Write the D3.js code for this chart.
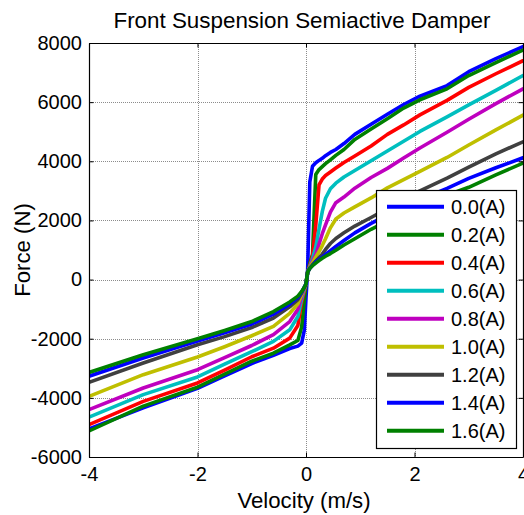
<!DOCTYPE html>
<html><head><meta charset="utf-8">
<script src="https://cdn.jsdelivr.net/npm/d3@7"></script>
<style>
body{margin:0;background:#fff;}
svg{display:block;font-family:"Liberation Sans",Arial,Helvetica,sans-serif;}
</style>
</head><body>
<svg id="chart" width="524" height="515"></svg>
<script>
// ---- data ----
const velocity = [-4, -3, -2, -1.5, -1, -0.6, -0.3, -0.15, -0.08, -0.03, 0, 0.03, 0.07, 0.12, 0.18, 0.24, 0.3, 0.36, 0.45, 0.55, 0.7, 0.9, 1.2, 1.5, 1.8, 2.1, 2.6, 3, 3.5, 4];
const currentLabels = ["0.0(A)", "0.2(A)", "0.4(A)", "0.6(A)", "0.8(A)", "1.0(A)", "1.2(A)", "1.4(A)", "1.6(A)"];
const lineColors = ["#0000ff", "#008000", "#ff0000", "#00bfbf", "#bf00bf", "#bfbf00", "#404040", "#0000ff", "#008000"];
const force00 = [-5050, -4340, -3680, -3260, -2840, -2560, -2330, -2250, -2150, -1700, -600, 300, 3300, 3830, 3950, 4030, 4100, 4190, 4300, 4400, 4600, 4910, 5255, 5590, 5920, 6200, 6560, 7030, 7470, 7880];
const force02 = [-5120, -4280, -3640, -3200, -2760, -2490, -2210, -2060, -1600, -700, -150, 250, 550, 850, 3550, 3720, 3820, 3920, 4050, 4200, 4400, 4740, 5090, 5440, 5800, 6080, 6450, 6900, 7340, 7760];
const force04 = [-4905, -4118, -3497, -3060, -2610, -2320, -1980, -1550, -750, -380, -150, 250, 480, 800, 1830, 3200, 3400, 3520, 3640, 3770, 3960, 4180, 4520, 4910, 5230, 5570, 6060, 6500, 6960, 7400];
const force06 = [-4650, -3890, -3294, -2860, -2440, -2090, -1700, -1250, -650, -330, -150, 250, 450, 700, 1100, 1700, 2300, 2750, 3070, 3260, 3470, 3690, 4020, 4350, 4680, 5010, 5500, 5910, 6400, 6900];
const force08 = [-4400, -3666, -3047, -2640, -2230, -1860, -1420, -1000, -560, -300, -150, 250, 420, 620, 850, 1200, 1550, 1850, 2280, 2600, 2790, 3090, 3450, 3760, 4110, 4450, 4980, 5420, 5950, 6450];
const force10 = [-3950, -3216, -2618, -2270, -1900, -1580, -1140, -820, -500, -280, -150, 250, 400, 560, 760, 940, 1150, 1380, 1750, 2050, 2250, 2460, 2760, 3100, 3380, 3660, 4130, 4550, 5060, 5560];
const force12 = [-3476, -2820, -2203, -1930, -1620, -1300, -920, -680, -450, -260, -150, 250, 380, 500, 620, 740, 860, 1020, 1220, 1390, 1580, 1810, 2100, 2400, 2700, 3000, 3430, 3800, 4250, 4660];
const force14 = [-3270, -2650, -2080, -1800, -1500, -1170, -830, -600, -430, -250, -150, 250, 380, 480, 600, 680, 760, 850, 980, 1120, 1320, 1580, 1900, 2180, 2450, 2700, 3080, 3420, 3780, 4120];
const force16 = [-3140, -2540, -2000, -1720, -1420, -1080, -760, -560, -400, -260, -150, 250, 380, 470, 560, 640, 720, 790, 880, 990, 1170, 1380, 1700, 1980, 2230, 2480, 2850, 3120, 3540, 3940];
const xTickValues = [-4, -2, 0, 2, 4];
const yTickValues = [-6000, -4000, -2000, 0, 2000, 4000, 6000, 8000];
const titleText = "Front Suspension Semiactive Damper";
const xLabelText = "Velocity (m/s)";
const yLabelText = "Force (N)";

const forces = [force00, force02, force04, force06, force08, force10, force12, force14, force16];

// ---- layout ----
const svg = d3.select("#chart");
const L = 89, R = 523, T = 43, B = 457;
const x = d3.scaleLinear().domain([-4, 4]).range([L, R]);
const y = d3.scaleLinear().domain([-6000, 8000]).range([B, T]);

svg.append("rect").attr("width", 524).attr("height", 515).attr("fill", "#fff");

// grid
const grid = svg.append("g").attr("stroke", "#8c8c8c").attr("stroke-width", 1).attr("stroke-dasharray", "1,1");
grid.selectAll("line.gx").data(xTickValues.slice(1, -1)).join("line")
  .attr("x1", d => Math.round(x(d)) + 0.5).attr("x2", d => Math.round(x(d)) + 0.5)
  .attr("y1", T).attr("y2", B);
grid.selectAll("line.gy").data(yTickValues.slice(1, -1)).join("line")
  .attr("y1", d => Math.round(y(d)) + 0.5).attr("y2", d => Math.round(y(d)) + 0.5)
  .attr("x1", L).attr("x2", R);

// curves
svg.append("clipPath").attr("id", "clip").append("rect")
  .attr("x", L).attr("y", T).attr("width", R - L).attr("height", B - T);
const line = d3.line().x(d => x(d[0])).y(d => y(d[1]));
const curves = svg.append("g").attr("clip-path", "url(#clip)");
forces.forEach((f, i) => {
  curves.append("path")
    .datum(velocity.map((v, k) => [v, f[k]]))
    .attr("d", line)
    .attr("fill", "none")
    .attr("stroke", lineColors[i])
    .attr("stroke-width", 3.6)
    .attr("stroke-linejoin", "round")
    .attr("stroke-linecap", "round");
});

// axes (box with inner ticks on all sides)
const tickLen = 4.5;
const fontSize = 20;
const axB = svg.append("g").attr("transform", `translate(0,${B})`)
  .call(d3.axisBottom(x).tickValues(xTickValues).tickSizeInner(-tickLen).tickSizeOuter(0).tickPadding(10).tickFormat(d3.format("d")));
const axT = svg.append("g").attr("transform", `translate(0,${T})`)
  .call(d3.axisTop(x).tickValues(xTickValues).tickSizeInner(-tickLen).tickSizeOuter(0).tickFormat(""));
const axL = svg.append("g").attr("transform", `translate(${L},0)`)
  .call(d3.axisLeft(y).tickValues(yTickValues).tickSizeInner(-tickLen).tickSizeOuter(0).tickPadding(7).tickFormat(d3.format("d")));
const axR = svg.append("g").attr("transform", `translate(${R},0)`)
  .call(d3.axisRight(y).tickValues(yTickValues).tickSizeInner(-tickLen).tickSizeOuter(0).tickFormat(""));
[axB, axT, axL, axR].forEach(a => {
  a.select(".domain").attr("stroke", "#000").attr("stroke-width", 1.2);
  a.selectAll(".tick line").attr("stroke", "#000").attr("stroke-width", 1);
  a.selectAll("text").attr("fill", "#000").attr("font-size", fontSize).attr("font-family", "Liberation Sans, Arial, sans-serif");
});
axB.selectAll(".tick text").text(d => String(d));
axL.selectAll(".tick text").text(d => String(d));

// title & labels
svg.append("text").attr("x", 302).attr("y", 28).attr("text-anchor", "middle")
  .attr("font-size", 22.4).attr("fill", "#000").text(titleText);
svg.append("text").attr("x", 304).attr("y", 508).attr("text-anchor", "middle")
  .attr("font-size", 22.2).attr("fill", "#000").text(xLabelText);
svg.append("text").attr("transform", "translate(30,250) rotate(-90)").attr("text-anchor", "middle")
  .attr("font-size", 22.2).attr("fill", "#000").text(yLabelText);

// legend
const lg = svg.append("g");
lg.append("rect").attr("x", 376.5).attr("y", 190.5).attr("width", 140).attr("height", 258)
  .attr("fill", "#fff").attr("stroke", "#000").attr("stroke-width", 1.2);
const rowY = d3.scaleLinear().domain([0, currentLabels.length - 1]).range([206.7, 430.7]);
currentLabels.forEach((lab, i) => {
  lg.append("line").attr("x1", 387).attr("x2", 444).attr("y1", rowY(i)).attr("y2", rowY(i))
    .attr("stroke", lineColors[i]).attr("stroke-width", 4);
  lg.append("text").attr("x", 451).attr("y", rowY(i)).attr("dy", "0.36em")
    .attr("font-size", fontSize).attr("fill", "#000").text(lab);
});
</script>
</body></html>
